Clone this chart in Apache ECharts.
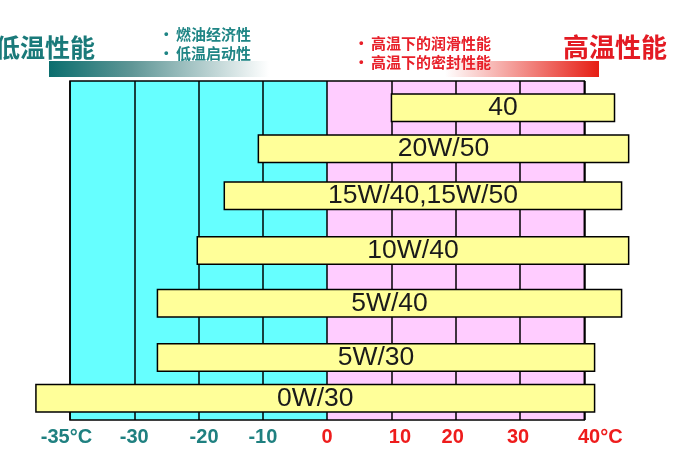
<!DOCTYPE html>
<html>
<head>
<meta charset="utf-8">
<script src="https://cdn.jsdelivr.net/npm/echarts@6/dist/echarts.min.js"></script>
<style>
html,body{margin:0;padding:0;background:#fff;}
#main{width:696px;height:451px;}
</style>
</head>
<body>
<div id="main"></div>
<script>
// 刻度标签（等间距列，左边一格是5°C，其余每格10°C）
var tickLabels = ['-35°C', '-30', '-20', '-10', '0', '10', '20', '30', '40°C'];
// 机油粘度等级
var grades = ['40', '20W/50', '15W/40,15W/50', '10W/40', '5W/40', '5W/30', '0W/30'];
// 每条的起止位置（以刻度格为单位，0 = -35°C，8 = 40°C）
var barStart = [5.00, 2.93, 2.40, 1.98, 1.36, 1.36, -0.53];
var barEnd   = [8.47, 8.69, 8.58, 8.69, 8.58, 8.16, 8.16];
// 每条所在的行位置（0 顶部 ~ 7 底部）
var barRow   = [0.55, 1.40, 2.37, 3.50, 4.59, 5.71, 6.55];

var TEAL = '#1f8080';
var RED = '#ee1c1c';
// 标签微调（像素）
var labelNudge = [-3.5, 0, 5.5, 0, 0, 8.5, -3, -2, 16];

var rich = {};
for (var i = 0; i < tickLabels.length; i++) {
    var n = labelNudge[i];
    rich['l' + i] = {
        color: i < 4 ? TEAL : RED,
        fontWeight: 'bold',
        fontSize: 20,
        fontFamily: 'Liberation Sans',
        padding: n >= 0 ? [0, 0, 0, 2 * n] : [0, -2 * n, 0, 0]
    };
}

var barData = [];
for (var j = 0; j < grades.length; j++) {
    barData.push([barStart[j], barEnd[j], barRow[j]]);
}

var myChart = echarts.init(document.getElementById('main'));
var option = {
    animation: false,
    grid: {
        left: 70, right: 111.7, top: 81, bottom: 31,
        show: true,
        borderColor: '#000',
        borderWidth: 1.5,
        backgroundColor: {
            type: 'linear', x: 0, y: 0, x2: 1, y2: 0,
            colorStops: [
                {offset: 0, color: '#66ffff'},
                {offset: 0.5, color: '#66ffff'},
                {offset: 0.5, color: '#ffccff'},
                {offset: 1, color: '#ffccff'}
            ]
        }
    },
    xAxis: {
        type: 'value',
        min: 0, max: 8, interval: 1,
        z: 1,
        axisLine: {show: false},
        axisTick: {show: false},
        splitLine: {show: true, lineStyle: {color: '#000', width: 1.5}},
        axisLabel: {
            margin: 7,
            showMinLabel: true,
            showMaxLabel: true,
            formatter: function (v) {
                var k = Math.round(v);
                return '{l' + k + '|' + tickLabels[k] + '}';
            },
            rich: rich
        }
    },
    yAxis: {
        type: 'value',
        inverse: true,
        min: 0, max: 7,
        show: false
    },
    graphic: [
        {
            type: 'rect', left: 49, top: 61, z: 0,
            shape: {width: 550, height: 16},
            style: {
                fill: {
                    type: 'linear', x: 0, y: 0, x2: 1, y2: 0,
                    colorStops: [
                        {offset: 0, color: '#0b6e6e'},
                        {offset: 0.15, color: '#5f9696'},
                        {offset: 0.40, color: '#ffffff'},
                        {offset: 0.72, color: '#ffffff'},
                        {offset: 1, color: '#e61e14'}
                    ]
                }
            }
        },
        {type: 'text', x: 95, y: 47, z: 5, style: {text: '低温性能', fill: '#1a7a7a', font: 'bold 25px "Noto Sans CJK SC"', textAlign: 'right', textVerticalAlign: 'middle'}},
        {type: 'text', x: 563, y: 47, z: 5, style: {text: '高温性能', fill: '#e31b23', font: 'bold 26px "Noto Sans CJK SC"', textAlign: 'left', textVerticalAlign: 'middle'}},
        {type: 'text', x: 164, y: 34, z: 5, style: {text: '•', fill: '#1f8585', font: 'bold 13px "Liberation Sans"', textVerticalAlign: 'middle'}},
        {type: 'text', x: 176, y: 34, z: 5, style: {text: '燃油经济性', fill: '#1f8585', font: 'bold 15px "Noto Sans CJK SC"', textVerticalAlign: 'middle'}},
        {type: 'text', x: 164, y: 53, z: 5, style: {text: '•', fill: '#1f8585', font: 'bold 13px "Liberation Sans"', textVerticalAlign: 'middle'}},
        {type: 'text', x: 176, y: 53, z: 5, style: {text: '低温启动性', fill: '#1f8585', font: 'bold 15px "Noto Sans CJK SC"', textVerticalAlign: 'middle'}},
        {type: 'text', x: 359, y: 43, z: 5, style: {text: '•', fill: '#e8202a', font: 'bold 13px "Liberation Sans"', textVerticalAlign: 'middle'}},
        {type: 'text', x: 371, y: 43, z: 5, style: {text: '高温下的润滑性能', fill: '#e8202a', font: 'bold 15px "Noto Sans CJK SC"', textVerticalAlign: 'middle'}},
        {type: 'text', x: 359, y: 62, z: 5, style: {text: '•', fill: '#e8202a', font: 'bold 13px "Liberation Sans"', textVerticalAlign: 'middle'}},
        {type: 'text', x: 371, y: 62, z: 5, style: {text: '高温下的密封性能', fill: '#e8202a', font: 'bold 15px "Noto Sans CJK SC"', textVerticalAlign: 'middle'}}
    ],
    series: [{
        type: 'custom',
        clip: false,
        z: 3,
        data: barData,
        renderItem: function (params, api) {
            var s = api.coord([api.value(0), api.value(2)]);
            var e = api.coord([api.value(1), api.value(2)]);
            var h = 27.5;
            return {
                type: 'rect',
                shape: {x: s[0], y: s[1] - h / 2, width: e[0] - s[0], height: h},
                style: {fill: '#ffff99', stroke: '#000', lineWidth: 1.5},
                textContent: {
                    style: {
                        text: grades[params.dataIndex],
                        fill: '#1a1a1a',
                        font: '26.5px "Liberation Sans"'
                    }
                },
                textConfig: {position: 'inside'}
            };
        }
    }]
};
myChart.setOption(option);
</script>
</body>
</html>
